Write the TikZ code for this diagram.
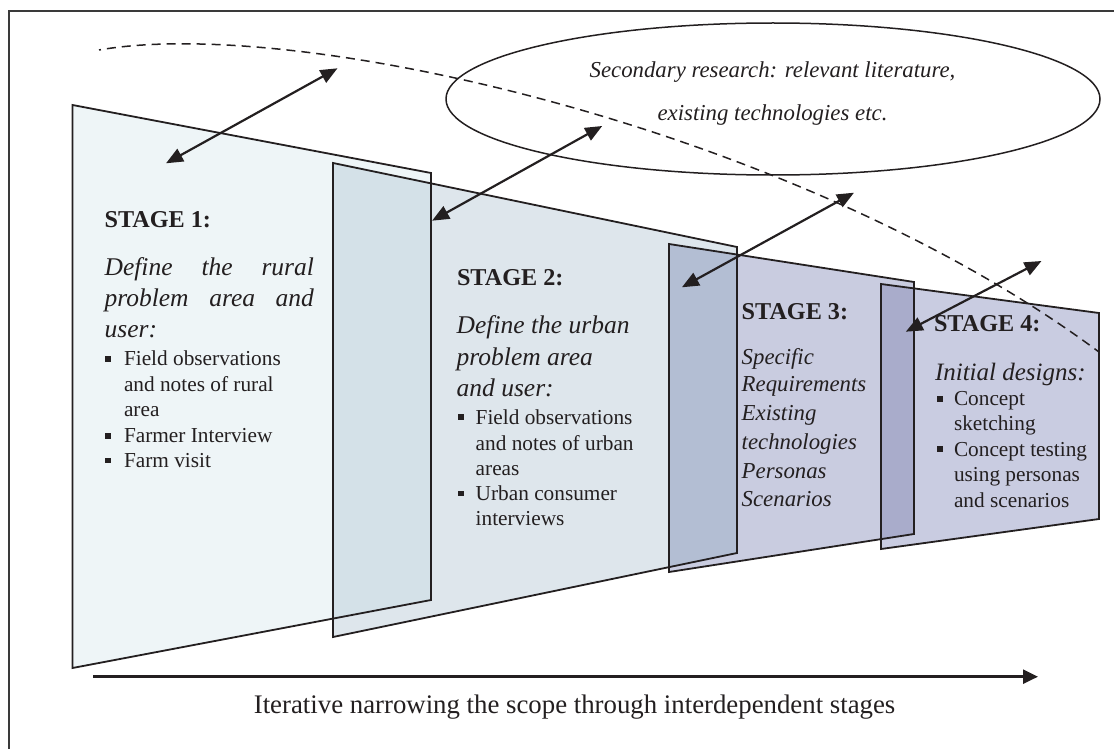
\documentclass[tikz,border=0pt]{standalone}
\usepackage{fontspec}
\setmainfont{Liberation Serif}
\usetikzlibrary{arrows.meta}

\definecolor{ink}{HTML}{231F20}
\definecolor{framegray}{HTML}{3A3A3A}
\definecolor{fillA}{HTML}{EEF5F7}
\definecolor{fillB}{HTML}{DEE6EC}
\definecolor{fillC}{HTML}{C9CCE0}
\definecolor{fillD}{HTML}{C9CCE1}
\definecolor{lapAB}{HTML}{D4E1E8}
\definecolor{lapBC}{HTML}{B3BED3}
\definecolor{lapCD}{HTML}{A9ACCB}

\newcommand{\sqmark}{\rule[4.2pt]{6pt}{5.8pt}}

\begin{document}
\begin{tikzpicture}[x=1pt,y=-1pt,
  txt/.style={anchor=base west, inner sep=0pt, outer sep=0pt, text=ink},
  stagehead/.style={txt, font=\fontsize{24.2}{28}\selectfont\bfseries},
  itl/.style={txt, font=\fontsize{25.5}{30}\selectfont\itshape},
  itlsmall/.style={txt, font=\fontsize{22.8}{27}\selectfont\itshape},
  body/.style={txt, font=\fontsize{21.3}{25}\selectfont},
  bulletmark/.style={txt},
  panel/.style={draw=ink, line width=1.8pt, line join=miter},
  link/.style={draw=ink, line width=2.2pt,
    {Triangle[length=17pt,width=14pt]}-{Triangle[length=17pt,width=14pt]}},
]
\useasboundingbox (0,0) rectangle (1114,749);

% outer frame (top and left edges)
\draw[framegray, line width=2.3pt] (8.9,749) -- (8.9,10.7) -- (1114,10.7);

% stage panel corners
\coordinate (a1) at (72.5,105);  \coordinate (a2) at (431,173);
\coordinate (a3) at (431,600);   \coordinate (a4) at (72.5,668);
\coordinate (b1) at (333,163);   \coordinate (b2) at (737,247);
\coordinate (b3) at (737,553);   \coordinate (b4) at (333,637);
\coordinate (c1) at (669,244);   \coordinate (c2) at (914,282);
\coordinate (c3) at (914,534);   \coordinate (c4) at (669,572);
\coordinate (d1) at (881,284);   \coordinate (d2) at (1099,313);
\coordinate (d3) at (1099,519);  \coordinate (d4) at (881,549);

% panel fills
\fill[fillA] (a1) -- (a2) -- (a3) -- (a4) -- cycle;
\fill[fillB] (b1) -- (b2) -- (b3) -- (b4) -- cycle;
\fill[fillC] (c1) -- (c2) -- (c3) -- (c4) -- cycle;
\fill[fillD] (d1) -- (d2) -- (d3) -- (d4) -- cycle;

% overlaps between neighbouring stages
\begin{scope}
  \clip (a1) -- (a2) -- (a3) -- (a4) -- cycle;
  \fill[lapAB] (b1) -- (b2) -- (b3) -- (b4) -- cycle;
\end{scope}
\begin{scope}
  \clip (b1) -- (b2) -- (b3) -- (b4) -- cycle;
  \fill[lapBC] (c1) -- (c2) -- (c3) -- (c4) -- cycle;
\end{scope}
\begin{scope}
  \clip (c1) -- (c2) -- (c3) -- (c4) -- cycle;
  \fill[lapCD] (d1) -- (d2) -- (d3) -- (d4) -- cycle;
\end{scope}

% panel outlines
\draw[panel] (a1) -- (a2) -- (a3) -- (a4) -- cycle;
\draw[panel] (b1) -- (b2) -- (b3) -- (b4) -- cycle;
\draw[panel] (c1) -- (c2) -- (c3) -- (c4) -- cycle;
\draw[panel] (d1) -- (d2) -- (d3) -- (d4) -- cycle;

% secondary research ellipse
\coordinate (ecenter) at (773,99);
\draw[ink, line width=1.5pt] (ecenter) ellipse [x radius=327, y radius=76];
\node[txt, anchor=base, font=\fontsize{22.8}{27}\selectfont\itshape] (sec1) at (772.5,78) {Secondary research: relevant literature,};
\node[txt, anchor=base, font=\fontsize{22.8}{27}\selectfont\itshape] (sec2) at (772.5,120.7) {existing technologies etc.};

% dashed scope curve
\coordinate (dashstart) at (99,50);
\coordinate (dashend) at (1099,352);
\draw[ink, line width=1.5pt, dash pattern=on 9pt off 6pt, dash phase=7pt]
  (dashstart) .. controls (300,15) and (800,130) .. (dashend);

% stage 1 text
\node[stagehead] (s1h) at (104.6,227.3) {STAGE 1:};
\node[itl] (s1i1) at (104.6,275) {\hbox to 209.4pt{Define\hfill the\hfill rural}};
\node[itl] (s1i2) at (104.6,306) {\hbox to 209.4pt{problem\hfill area\hfill and}};
\node[itl] (s1i3) at (104.6,337) {user:};
\node[bulletmark] (s1m1) at (105.4,365.7) {\sqmark};
\node[body] (s1t1) at (124,365.7) {Field observations};
\node[body] (s1t2) at (124,391.7) {and notes of rural};
\node[body] (s1t3) at (124,416.7) {area};
\node[bulletmark] (s1m2) at (105.4,442.7) {\sqmark};
\node[body] (s1t4) at (124,442.7) {Farmer Interview};
\node[bulletmark] (s1m3) at (105.4,467.5) {\sqmark};
\node[body] (s1t5) at (124,467.5) {Farm visit};

% stage 2 text
\node[stagehead] (s2h) at (457,285) {STAGE 2:};
\node[itl] (s2i1) at (456.7,333.3) {Define the urban};
\node[itl] (s2i2) at (456.7,365) {problem area};
\node[itl] (s2i3) at (456.7,396.7) {and user:};
\node[bulletmark] (s2m1) at (458.3,424) {\sqmark};
\node[body] (s2t1) at (475.7,424) {Field observations};
\node[body] (s2t2) at (475.7,450) {and notes of urban};
\node[body] (s2t3) at (475.7,475) {areas};
\node[bulletmark] (s2m2) at (458.3,500.5) {\sqmark};
\node[body] (s2t4) at (475.7,500.5) {Urban consumer};
\node[body] (s2t5) at (475.7,525.5) {interviews};

% stage 3 text
\node[stagehead] (s3h) at (741.7,319) {STAGE 3:};
\node[itlsmall] (s3i1) at (741.7,364) {Specific};
\node[itlsmall] (s3i2) at (741.7,391.7) {Requirements};
\node[itlsmall] (s3i3) at (741.7,420) {Existing};
\node[itlsmall] (s3i4) at (741.7,449.3) {technologies};
\node[itlsmall] (s3i5) at (741.7,478) {Personas};
\node[itlsmall] (s3i6) at (741.7,506.7) {Scenarios};

% stage 4 text
\node[stagehead] (s4h) at (934,331.7) {STAGE 4:};
\node[txt, font=\fontsize{25}{30}\selectfont\itshape] (s4i1) at (935,380) {Initial designs:};
\node[bulletmark] (s4m1) at (936.7,405.7) {\sqmark};
\node[body] (s4t1) at (954,405.7) {Concept};
\node[body] (s4t2) at (954,430.5) {sketching};
\node[bulletmark] (s4m2) at (936.7,456) {\sqmark};
\node[body] (s4t3) at (954,456) {Concept testing};
\node[body] (s4t4) at (954,481.7) {using personas};
\node[body] (s4t5) at (954,507.3) {and scenarios};

% two-way links between stages and secondary research
\coordinate (l1a) at (166,163.3);   \coordinate (l1b) at (337.5,68.3);
\coordinate (l2a) at (432.1,220.7); \coordinate (l2b) at (602.2,126);
\coordinate (l3a) at (681.9,287.3); \coordinate (l3b) at (854,192.7);
\coordinate (l4a) at (905.8,331.7); \coordinate (l4b) at (1041.5,261);
\draw[link] (l1a) -- (l1b);
\draw[link] (l2a) -- (l2b);
\draw[link] (l3a) -- (l3b);
\draw[link] (l4a) -- (l4b);

% progress arrow and caption
\coordinate (flowstart) at (93.4,676.7);
\coordinate (flowend) at (1038,676.7);
\draw[ink, line width=2.5pt, -{Triangle[length=15pt,width=14pt]}] (flowstart) -- (flowend);
\node[txt, anchor=base, font=\fontsize{26.8}{31}\selectfont] (caption) at (574.6,713)
  {Iterative narrowing the scope through interdependent stages};
\end{tikzpicture}
\end{document}
